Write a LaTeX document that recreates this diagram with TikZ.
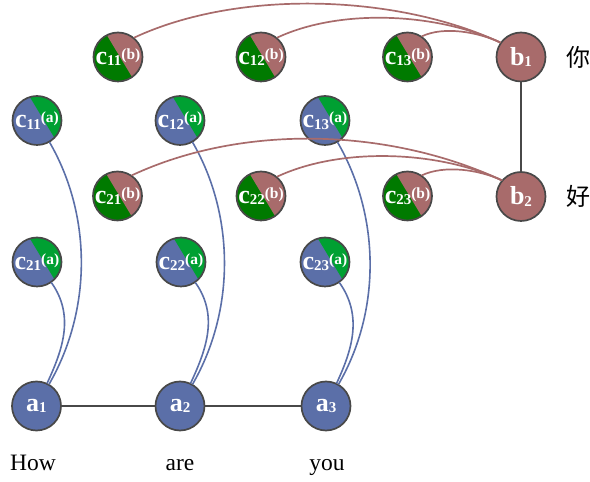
\documentclass[tikz,border=0pt]{standalone}
\usepackage{fontspec}
\setmainfont{Liberation Serif}
\newfontfamily\cjk{Noto Sans CJK SC}
\definecolor{blueA}{RGB}{91,111,168}
\definecolor{greenA}{RGB}{0,160,50}
\definecolor{greenB}{RGB}{0,122,0}
\definecolor{brownB}{RGB}{168,107,107}
\definecolor{lineg}{RGB}{72,72,72}
\newcommand{\nlbl}[2]{#1\raisebox{-1.5pt}{\fontsize{15}{15}\selectfont #2}}
\newcommand{\clbl}[2]{c\raisebox{-1.5pt}{\fontsize{15}{15}\selectfont #1}\raisebox{5pt}{\fontsize{15.5}{15.5}\selectfont (#2)}}
\tikzset{
	nd/.style={circle,draw=lineg,line width=1.7pt,minimum size=49pt,inner sep=0pt,text=white,font=\bfseries\fontsize{26}{26}\selectfont},
	an/.style={nd,fill=blueA},
	bn/.style={nd,fill=brownB},
	ca/.style={nd,fill=blueA,path picture={\fill[greenA] ([xshift=7pt]path picture bounding box.center) ++(121:40pt) -- ++(31:40pt) -- ++(-59:80pt) -- ++(211:40pt) -- cycle;}},
	cb/.style={nd,fill=greenB,path picture={\fill[brownB] ([xshift=2pt]path picture bounding box.center) ++(121:40pt) -- ++(31:40pt) -- ++(-59:80pt) -- ++(211:40pt) -- cycle;}},
	ea/.style={draw=blueA,line width=1.6pt},
	eb/.style={draw=brownB,line width=1.7pt},
	eg/.style={draw=lineg,line width=1.7pt},
	word/.style={font=\fontsize{23.5}{23.5}\selectfont,anchor=base}
}
\begin{document}
\begin{tikzpicture}[line cap=round,line join=round,x=1pt,y=1pt]
	\useasboundingbox (0,0) rectangle (590,482);
	\node[an] (a1) at (36.5,76) {\nlbl{a}{1}};
	\node[an] (a2) at (180,76) {\nlbl{a}{2}};
	\node[an] (a3) at (326,76) {\nlbl{a}{3}};
	\node[word] (w1) at (33,11) {How};
	\node[word] (w2) at (180,11) {are};
	\node[word] (w3) at (327,11) {you};
	\node[ca] (c11a) at (37,361.5) {\clbl{11}{a}};
	\node[ca] (c12a) at (180,361.5) {\clbl{12}{a}};
	\node[ca] (c13a) at (325,361.5) {\clbl{13}{a}};
	\node[ca] (c21a) at (37,220) {\clbl{21}{a}};
	\node[ca] (c22a) at (181,220) {\clbl{22}{a}};
	\node[ca] (c23a) at (325,220) {\clbl{23}{a}};
	\node[cb] (c11b) at (118,425) {\clbl{11}{b}};
	\node[cb] (c12b) at (261,425) {\clbl{12}{b}};
	\node[cb] (c13b) at (407.5,425) {\clbl{13}{b}};
	\node[cb] (c21b) at (117.5,286) {\clbl{21}{b}};
	\node[cb] (c22b) at (261,286) {\clbl{22}{b}};
	\node[cb] (c23b) at (407.5,286) {\clbl{23}{b}};
	\node[bn] (b1) at (521,425) {\nlbl{b}{1}};
	\node[bn] (b2) at (521,285.5) {\nlbl{b}{2}};
	\node[font=\cjk\fontsize{24}{24}\selectfont] (z1) at (578,425) {你};
	\node[font=\cjk\fontsize{24}{24}\selectfont] (z2) at (578,285.5) {好};
	\draw[eg] (a1) -- (a2);
	\draw[eg] (a2) -- (a3);
	\draw[eg] (b1) -- (b2);
	\draw[ea] (c11a) to[out=-60,in=60,looseness=0.9] (a1);
	\draw[ea] (c21a) to[out=-55,in=65] (a1);
	\draw[ea] (c12a) to[out=-60,in=60,looseness=0.9] (a2);
	\draw[ea] (c22a) to[out=-55,in=65] (a2);
	\draw[ea] (c13a) to[out=-60,in=60,looseness=0.9] (a3);
	\draw[ea] (c23a) to[out=-55,in=65] (a3);
	\draw[eb] (c11b.50) to[out=25,in=155,looseness=0.8] (b1.145);
	\draw[eb] (c12b.50) to[out=25,in=155,looseness=0.8] (b1.145);
	\draw[eb] (c13b.55) to[out=25,in=155,looseness=0.8] (b1.145);
	\draw[eb] (c21b.55) to[out=25,in=155,looseness=0.85] (b2.140);
	\draw[eb] (c22b.50) to[out=25,in=155,looseness=0.8] (b2.140);
	\draw[eb] (c23b.55) to[out=25,in=155,looseness=0.8] (b2.140);
\end{tikzpicture}
\end{document}
